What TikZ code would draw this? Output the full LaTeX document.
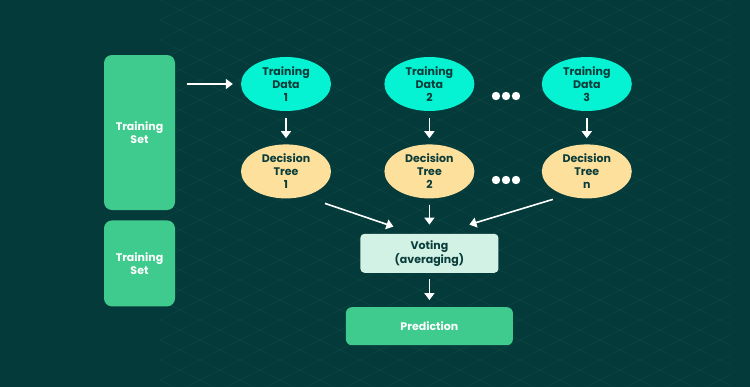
\documentclass[tikz,border=0pt]{standalone}
\usepackage{fontspec}
\setmainfont{Poppins}
\usetikzlibrary{shapes.geometric, arrows.meta, positioning}

\definecolor{bgteal}{HTML}{043A3A}
\definecolor{gridteal}{HTML}{0D4643}
\definecolor{setgreen}{HTML}{3ECB8D}
\definecolor{datacyan}{HTML}{05F3D3}
\definecolor{treeyellow}{HTML}{FDE09C}
\definecolor{votemint}{HTML}{D2F2E6}
\definecolor{darkteal}{HTML}{0A3C3A}

\begin{document}
\begin{tikzpicture}[
    x=1pt, y=-1pt,
    font=\bfseries\fontsize{11}{13}\selectfont,
    >={Triangle[length=7pt, width=10pt]},
    flow/.style={->, draw=white, fill=white, line width=1.6pt},
    setbox/.style={rectangle, fill=setgreen, text=white, rounded corners=8pt, minimum width=71pt, align=center},
    datanode/.style={ellipse, fill=datacyan, text=darkteal, minimum width=90pt, minimum height=54pt, inner sep=0pt, align=center},
    treenode/.style={datanode, fill=treeyellow},
    votebox/.style={rectangle, fill=votemint, text=darkteal, rounded corners=4pt, minimum width=138pt, minimum height=39pt, align=center},
    predbox/.style={rectangle, fill=setgreen, text=white, rounded corners=6pt, minimum width=167pt, minimum height=38pt, align=center}
]

% Background and grid
\useasboundingbox (0,0) rectangle (750,386);
\fill[bgteal] (-3,-3) rectangle (753,389);
\begin{scope}
\clip (160,-3) rectangle (730,389);
\foreach \c in {-400,-380,...,400}
    \draw[gridteal, line width=0.6pt] (0,\c) -- (750,\c+375);
\foreach \c in {0,20,...,800}
    \draw[gridteal, line width=0.6pt] (0,\c) -- (750,\c-375);
\end{scope}

% Training sets
\node[setbox, minimum height=155pt] (set1) at (139.5,132.5) {Training\\Set};
\node[setbox, minimum height=86pt, below=10pt of set1] (set2) {Training\\Set};

% Training data
\node[datanode] (data1) at (286,84) {Training\\Data\\1};
\node[datanode, right=53pt of data1] (data2) {Training\\Data\\2};
\node[datanode, right=67pt of data2] (data3) {Training\\Data\\3};

% Decision trees
\node[treenode, below=33pt of data1] (tree1) {Decision\\Tree\\1};
\node[treenode, below=33pt of data2] (tree2) {Decision\\Tree\\2};
\node[treenode, below=33pt of data3] (tree3) {Decision\\Tree\\n};

% Voting and result
\node[votebox, below=35pt of tree2] (vote) {Voting\\(averaging)};
\node[predbox, below=34pt of vote] (pred) {Prediction};

% Dots
\coordinate (dotsA) at (506,96);
\coordinate (dotsB) at (506,180);
\foreach \dx in {-10,0,10} {
    \fill[white, shift={(dotsA)}] (\dx,0) circle (4.2pt);
    \fill[white, shift={(dotsB)}] (\dx,0) circle (4.2pt);
}

% Arrows
\draw[flow, shorten <=12pt, shorten >=8pt] (set1.east |- data1) -- (data1);
\foreach \n in {1,2,3}
    \draw[flow, shorten <=7pt, shorten >=6pt] (data\n) -- (tree\n);
\draw[flow] ([xshift=39pt, yshift=-32pt]tree1.center) -- ([xshift=-36pt, yshift=7pt]vote.north);
\draw[flow, shorten <=6pt, shorten >=9pt] (tree2) -- (vote);
\draw[flow] ([xshift=-34pt, yshift=-28pt]tree3.center) -- ([xshift=40pt, yshift=9pt]vote.north);
\draw[flow, shorten <=6pt, shorten >=7pt] (vote) -- (pred);

\end{tikzpicture}
\end{document}
